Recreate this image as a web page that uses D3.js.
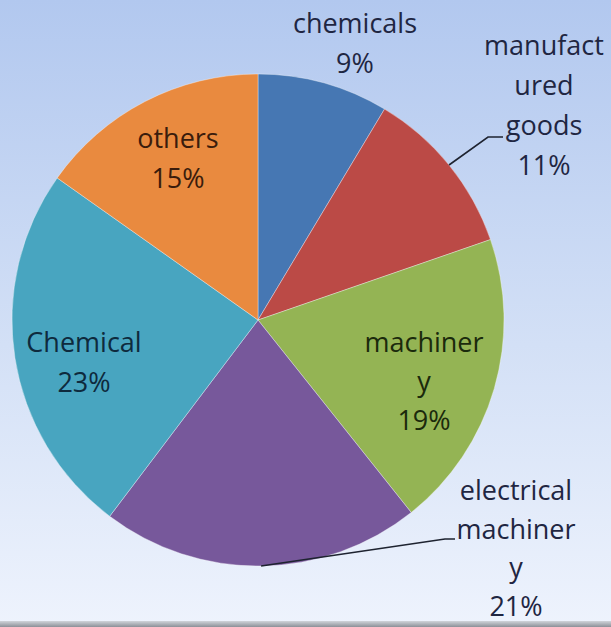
<!DOCTYPE html>
<html>
<head>
<meta charset="utf-8">
<script src="https://cdn.jsdelivr.net/npm/d3@7"></script>
<style>
  html, body { margin: 0; padding: 0; background: #ffffff; }
  svg { display: block; }
</style>
</head>
<body>
<svg id="chart" width="611" height="627"></svg>
<script>
// ---- data ----
const categories = ["chemicals", "manufactured goods", "machinery", "electrical machinery", "Chemical", "others"];
const values = [8.6, 11.1, 19.6, 21.0, 24.5, 15.2];
const labelLines = [
  ["chemicals", "9%"],
  ["manufact", "ured", "goods", "11%"],
  ["machiner", "y", "19%"],
  ["electrical", "machiner", "y", "21%"],
  ["Chemical", "23%"],
  ["others", "15%"]
];
const colors = ["#4677b3", "#bb4a46", "#94b454", "#77589b", "#48a5c0", "#e98a3f"];

// ---- layout ----
const W = 611, H = 627;
const cx = 258, cy = 320, R = 246;
const lineH = 40;
const labelLayout = [
  { x: 355, y: 33, color: "#1f2642" },
  { x: 544, y: 55, color: "#1f2642", leader: [[488, 137], [503, 137]] },
  { x: 424, y: 352, color: "#1b2a0c", lh: 39 },
  { x: 516, y: 500, color: "#1f2642", lh: 38.5, leader: [[445, 539], [455, 539]] },
  { x: 84, y: 352, color: "#0e2a3d" },
  { x: 178, y: 148, color: "#3a1c0c" }
];

const svg = d3.select("#chart");
const defs = svg.append("defs");
const bg = defs.append("linearGradient").attr("id", "bg")
  .attr("x1", 0).attr("y1", 0).attr("x2", 0).attr("y2", 1);
bg.append("stop").attr("offset", "0%").attr("stop-color", "#b2c8ef");
bg.append("stop").attr("offset", "55%").attr("stop-color", "#d3e0f6");
bg.append("stop").attr("offset", "100%").attr("stop-color", "#eef3fd");
const bot = defs.append("linearGradient").attr("id", "bot")
  .attr("x1", 0).attr("y1", 0).attr("x2", 0).attr("y2", 1);
bot.append("stop").attr("offset", "0%").attr("stop-color", "#d0d4da");
bot.append("stop").attr("offset", "100%").attr("stop-color", "#8c9098");

svg.append("rect").attr("width", W).attr("height", H).attr("fill", "url(#bg)");

const pie = d3.pie().sort(null).value(d => d);
const arcs = pie(values);
const arc = d3.arc().innerRadius(0).outerRadius(R);

const g = svg.append("g").attr("transform", `translate(${cx},${cy})`);
g.selectAll("path.slice").data(arcs).join("path")
  .attr("class", "slice")
  .attr("d", arc)
  .attr("fill", (d, i) => colors[i])
  .attr("stroke", "rgba(255,255,255,0.35)")
  .attr("stroke-width", 1);

// leader lines from slice mid-angle on circumference
arcs.forEach((d, i) => {
  const L = labelLayout[i];
  if (!L.leader) return;
  const a = (d.startAngle + d.endAngle) / 2;
  const p0 = [cx + R * Math.sin(a), cy - R * Math.cos(a)];
  const pts = [p0, ...L.leader];
  svg.append("path")
    .attr("d", d3.line()(pts))
    .attr("fill", "none")
    .attr("stroke", "#1e2330")
    .attr("stroke-width", 1.6);
});

// bottom strip
svg.append("rect").attr("x", 0).attr("y", 621).attr("width", W).attr("height", 6).attr("fill", "url(#bot)");

// labels
labelLines.forEach((lines, i) => {
  const L = labelLayout[i];
  const lh = L.lh || lineH;
  const t = svg.append("text")
    .attr("text-anchor", "middle")
    .attr("font-family", "'Open Sans', 'DejaVu Sans', sans-serif")
    .attr("font-size", 27)
    .attr("fill", L.color);
  lines.forEach((s, j) => {
    t.append("tspan").attr("x", L.x).attr("y", L.y + j * lh).text(s);
  });
});
</script>
</body>
</html>
